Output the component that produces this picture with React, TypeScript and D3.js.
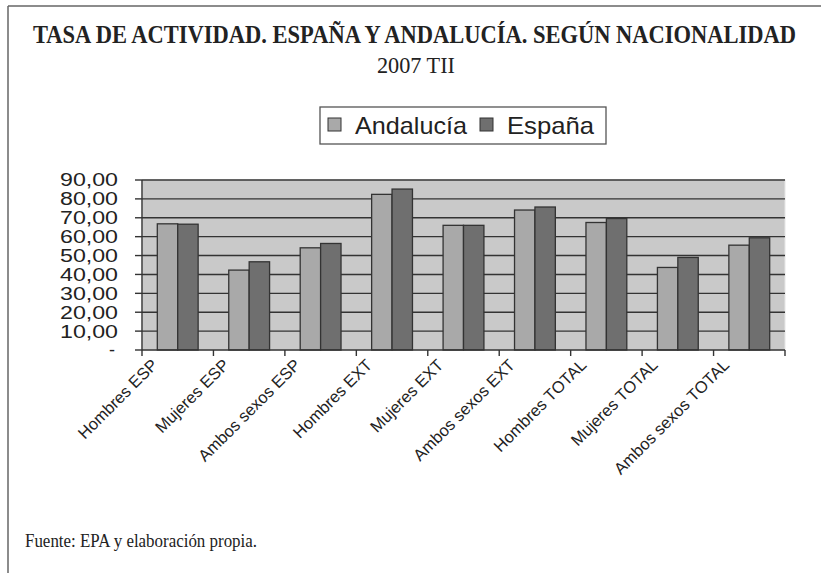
import * as React from "react";
import * as d3 from "d3";

const categories = [
  "Hombres ESP",
  "Mujeres ESP",
  "Ambos sexos ESP",
  "Hombres EXT",
  "Mujeres EXT",
  "Ambos sexos EXT",
  "Hombres TOTAL",
  "Mujeres TOTAL",
  "Ambos sexos TOTAL",
];
const seriesNames = ["Andalucía", "España"];
const andalucia = [66.8, 42.3, 54.1, 82.4, 66.0, 74.1, 67.5, 43.7, 55.5];
const espana = [66.6, 46.7, 56.4, 85.2, 66.0, 75.7, 69.6, 49.0, 59.4];
const yTicks = [0, 10, 20, 30, 40, 50, 60, 70, 80, 90];

export default function App() {
  const ref = React.useRef<SVGSVGElement>(null);

  const draw = () => {
    const svg = d3.select(ref.current);
    svg.selectAll("*").remove();

    const barColors = ["#a9a9a9", "#6f6f6f"];
    const lineColor = "#333";
    const sans = "'Liberation Sans', Arial, sans-serif";
    const serif = "'Liberation Serif', 'Times New Roman', serif";

    const plot = { left: 142, right: 785, top: 180, bottom: 350 };

    // outer frame (top and left only)
    svg.append("line").attr("x1", 8).attr("x2", 821).attr("y1", 6).attr("y2", 6)
      .attr("stroke", "#666").attr("stroke-width", 1.5);
    svg.append("line").attr("x1", 8).attr("x2", 8).attr("y1", 6).attr("y2", 573)
      .attr("stroke", "#666").attr("stroke-width", 1.5);

    // title, slightly stretched vertically like the original
    svg.append("text")
      .text("TASA DE ACTIVIDAD. ESPAÑA Y ANDALUCÍA. SEGÚN NACIONALIDAD")
      .attr("transform", "translate(33,43) scale(1,1.1)")
      .attr("font-family", serif).attr("font-weight", "bold").attr("font-size", 23)
      .attr("textLength", 763).attr("lengthAdjust", "spacingAndGlyphs")
      .attr("fill", "#222");

    svg.append("text")
      .text("2007 TII")
      .attr("x", 377).attr("y", 73)
      .attr("font-family", serif).attr("font-size", 23)
      .attr("textLength", 78).attr("lengthAdjust", "spacingAndGlyphs")
      .attr("fill", "#222");

    // legend
    const legend = svg.append("g");
    legend.append("rect").attr("x", 320).attr("y", 107).attr("width", 286).attr("height", 37)
      .attr("fill", "white").attr("stroke", "#555").attr("stroke-width", 1.3);
    const legendX = [328, 480];
    const legendW = [112, 87];
    seriesNames.forEach((name, i) => {
      legend.append("rect").attr("x", legendX[i]).attr("y", 118).attr("width", 13).attr("height", 13)
        .attr("fill", barColors[i]).attr("stroke", lineColor).attr("stroke-width", 1);
      legend.append("text").text(name)
        .attr("x", legendX[i] + 27).attr("y", 134)
        .attr("font-family", sans).attr("font-size", 24)
        .attr("textLength", legendW[i]).attr("lengthAdjust", "spacingAndGlyphs")
        .attr("fill", "#222");
    });

    const x = d3.scaleBand().domain(categories).range([plot.left, plot.right]);
    const y = d3.scaleLinear().domain([0, 90]).range([plot.bottom, plot.top]);
    const barW = x.bandwidth() / 3.5;

    // plot background
    svg.append("rect")
      .attr("x", plot.left).attr("y", plot.top)
      .attr("width", plot.right - plot.left).attr("height", plot.bottom - plot.top)
      .attr("fill", "#c9c9c9").attr("stroke", "#e6e6e6").attr("stroke-width", 1);

    // gridlines
    svg.append("g").selectAll("line").data(yTicks.filter((d) => d > 0)).enter().append("line")
      .attr("x1", plot.left).attr("x2", plot.right)
      .attr("y1", (d) => y(d)).attr("y2", (d) => y(d))
      .attr("stroke", lineColor).attr("stroke-width", 1.4);

    // bars
    const seriesData = [andalucia, espana];
    seriesData.forEach((vals, s) => {
      svg.append("g").selectAll("rect").data(categories).enter().append("rect")
        .attr("x", (d) => x(d)! + x.bandwidth() / 2 - barW + s * barW)
        .attr("y", (d, i) => y(vals[i]))
        .attr("width", barW)
        .attr("height", (d, i) => y(0) - y(vals[i]))
        .attr("fill", barColors[s])
        .attr("stroke", lineColor).attr("stroke-width", 1.3);
    });

    // y axis
    const yAxis = svg.append("g");
    yAxis.append("line").attr("x1", plot.left).attr("x2", plot.left)
      .attr("y1", plot.top).attr("y2", plot.bottom)
      .attr("stroke", lineColor).attr("stroke-width", 1.4);
    yAxis.selectAll("line.tick").data(yTicks).enter().append("line")
      .attr("class", "tick")
      .attr("x1", plot.left - 7).attr("x2", plot.left)
      .attr("y1", (d) => y(d)).attr("y2", (d) => y(d))
      .attr("stroke", lineColor).attr("stroke-width", 1.4);
    yAxis.selectAll("text").data(yTicks).enter().append("text")
      .text((d) => (d === 0 ? "-" : d3.format(".2f")(d).replace(".", ",")))
      .attr("x", (d) => (d === 0 ? 115 : 118))
      .attr("y", (d) => y(d))
      .attr("dy", "0.36em")
      .attr("text-anchor", "end")
      .attr("font-family", sans).attr("font-size", 18)
      .each(function (d) {
        if (d !== 0) {
          d3.select(this).attr("textLength", 58).attr("lengthAdjust", "spacingAndGlyphs");
        }
      })
      .attr("fill", "#222");

    // x axis
    const xAxis = svg.append("g");
    xAxis.append("line").attr("x1", plot.left).attr("x2", plot.right)
      .attr("y1", plot.bottom).attr("y2", plot.bottom)
      .attr("stroke", lineColor).attr("stroke-width", 1.4);
    const boundaries = categories.map((c) => x(c)!).concat([plot.right]);
    xAxis.selectAll("line.tick").data(boundaries).enter().append("line")
      .attr("class", "tick")
      .attr("x1", (d) => d).attr("x2", (d) => d)
      .attr("y1", plot.bottom).attr("y2", plot.bottom + 6)
      .attr("stroke", lineColor).attr("stroke-width", 1.4);
    xAxis.selectAll("text").data(categories).enter().append("text")
      .text((d) => d)
      .attr("transform", (d) => {
        const px = x(d)! + x.bandwidth() / 2 - 19;
        return "translate(" + px + "," + 366 + ") rotate(-45)";
      })
      .attr("text-anchor", "end")
      .attr("font-family", sans).attr("font-size", 16.5)
      .attr("fill", "#222");

    svg.append("text")
      .text("Fuente: EPA y elaboración propia.")
      .attr("x", 25).attr("y", 547)
      .attr("font-family", serif).attr("font-size", 18)
      .attr("textLength", 232).attr("lengthAdjust", "spacingAndGlyphs")
      .attr("fill", "#222");
  };

  React.useEffect(() => {
    draw();
    // eslint-disable-next-line react-hooks/exhaustive-deps
  }, []);

  return (
    <svg
      ref={ref}
      width={821}
      height={573}
      style={{ position: "absolute", left: 0, top: 0, background: "white" }}
    />
  );
}
